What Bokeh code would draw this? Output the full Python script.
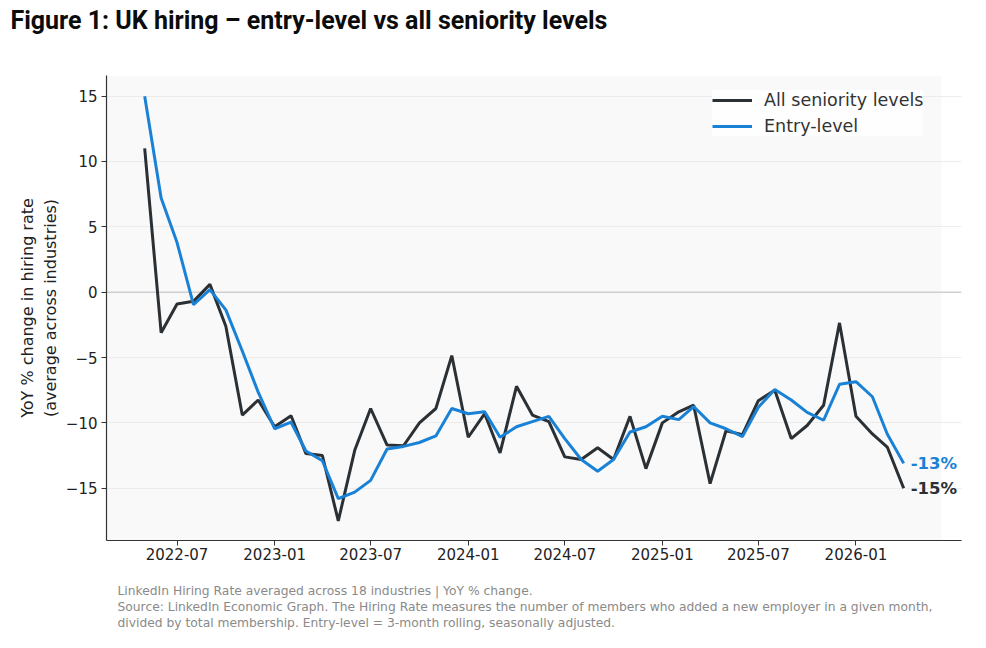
import pandas as pd
from bokeh.plotting import figure
from bokeh.models import (FixedTicker, DatetimeTickFormatter, Range1d, Label,
                          Legend, LegendItem, Span, Title, BoxAnnotation)
from bokeh.embed import file_html
from bokeh.resources import INLINE

# ---- data ----
months = pd.date_range("2022-05-01", "2026-04-01", freq="MS")

all_levels = [
    11.0, -3.1, -0.9, -0.7, 0.6, -2.6, -9.4, -8.25,
    -10.3, -9.45, -12.35, -12.5, -17.5, -12.1, -8.9, -11.7, -11.75, -10.0, -8.9, -4.85,
    -11.1, -9.3, -12.3, -7.2, -9.4, -9.9, -12.6, -12.8, -11.9, -12.8, -9.5, -13.5,
    -10.0, -9.15, -8.65, -14.65, -10.6, -10.9, -8.3, -7.5, -11.2, -10.2, -8.65, -2.35,
    -9.5, -10.85, -11.85, -15.0,
]
entry_level = [
    15.0, 7.2, 3.8, -0.95, 0.2, -1.35, -4.5, -7.65,
    -10.45, -9.95, -12.15, -12.9, -15.8, -15.3, -14.4, -12.0, -11.8, -11.5, -11.0, -8.9,
    -9.3, -9.15, -11.1, -10.3, -9.9, -9.5, -11.2, -12.8, -13.7, -12.8, -10.7, -10.3,
    -9.5, -9.75, -8.75, -10.0, -10.45, -11.05, -8.8, -7.45, -8.25, -9.2, -9.8, -7.05,
    -6.85, -8.0, -10.85, -13.1,
]
series_names = ["All seniority levels", "Entry-level"]
end_labels = ["-15%", "-13%"]
y_ticks = [-15, -10, -5, 0, 5, 10, 15]
x_tick_dates = ["2022-07-01", "2023-01-01", "2023-07-01", "2024-01-01",
                "2024-07-01", "2025-01-01", "2025-07-01", "2026-01-01"]

title_text = "Figure 1: UK hiring \u2013 entry-level vs all seniority levels"
footnotes = [
    "LinkedIn Hiring Rate averaged across 18 industries | YoY % change.",
    "Source: LinkedIn Economic Graph. The Hiring Rate measures the number of members who added a new employer in a given month,",
    "divided by total membership. Entry-level = 3-month rolling, seasonally adjusted.",
]

BLACK = "#2b3034"
BLUE = "#1a82d6"
FONT = "DejaVu Sans"


def ms(d):
    return pd.Timestamp(d).value / 1e6


p = figure(
    width=986, height=648,
    x_axis_type="datetime",
    output_backend="svg", toolbar_location=None,
    x_range=Range1d(ms("2022-02-18"), ms("2026-07-19")),
    y_range=Range1d(-19.0, 16.58),
    min_border_left=106, min_border_right=25,
    min_border_top=75, min_border_bottom=108,
)
p.background_fill_color = "white"
p.border_fill_color = "white"
p.outline_line_color = None

# light plot-area background (axes region of the reference)
bg = BoxAnnotation(right=ms("2026-06-11"), fill_color="#f9f9f9", fill_alpha=1.0,
                   line_color=None, level="image")
p.add_layout(bg)

# grid
p.xgrid.visible = False
p.ygrid.ticker = FixedTicker(ticks=y_ticks)
p.ygrid.grid_line_color = "#ececec"
p.ygrid.grid_line_width = 1
zero = Span(location=0, dimension="width", line_color="#cfcfcf", line_width=1.5,
            level="underlay")
p.add_layout(zero)

# axes
for ax in (p.xaxis[0], p.yaxis[0]):
    ax.axis_line_color = "#333333"
    ax.axis_line_width = 1.2
    ax.major_tick_line_color = "#333333"
    ax.major_tick_out = 5
    ax.major_tick_in = 0
    ax.minor_tick_line_color = None
    ax.major_label_text_font = FONT
    ax.major_label_text_font_size = "15px"
    ax.major_label_text_color = "#222222"

p.yaxis.ticker = FixedTicker(ticks=y_ticks)
p.yaxis.major_label_overrides = {t: (str(t).replace("-", "\u2212")) for t in y_ticks}
p.yaxis.major_label_standoff = 4
p.yaxis.axis_label = "YoY % change in hiring rate\n(average across industries)"
p.yaxis.axis_label_text_font = FONT
p.yaxis.axis_label_text_font_size = "16px"
p.yaxis.axis_label_text_font_style = "normal"
p.yaxis.axis_label_text_color = "#222222"
p.yaxis.axis_label_standoff = 3

p.xaxis.ticker = FixedTicker(ticks=[ms(d) for d in x_tick_dates])
p.xaxis.formatter = DatetimeTickFormatter(
    years="%Y-%m", months="%Y-%m", days="%Y-%m", hours="%Y-%m",
)
p.xaxis.major_label_standoff = 2
# blank spacer between tick labels and the source notes
p.xaxis.axis_label = " "
p.xaxis.axis_label_text_font_size = "8px"
p.xaxis.axis_label_standoff = 7

# lines
r_all = p.line(months, all_levels, line_color=BLACK, line_width=3)
r_entry = p.line(months, entry_level, line_color=BLUE, line_width=3)

legend = Legend(
    items=[LegendItem(label=series_names[0], renderers=[r_all]),
           LegendItem(label=series_names[1], renderers=[r_entry])],
    location=(606, 404),
    label_text_font=FONT, label_text_font_size="17.5px", label_text_color="#333333",
    background_fill_color="white", background_fill_alpha=0.85,
    border_line_color=None, glyph_width=40, label_standoff=12,
    spacing=6, padding=10, margin=0,
)
p.add_layout(legend)

# end labels
last_x = ms(months[-1])
for val, txt, col in [(all_levels[-1], end_labels[0], BLACK),
                      (entry_level[-1], end_labels[1], BLUE)]:
    p.add_layout(Label(x=last_x, y=val, text=txt, x_offset=7,
                       text_baseline="middle", text_font=FONT,
                       text_font_style="bold", text_font_size="16.5px",
                       text_color=col))

# title (spacer between title and frame, then the title itself)
p.title.text = ""
p.title.standoff = 0
p.add_layout(Title(text=" ", text_font_size="12px", standoff=25), "above")
p.add_layout(Title(text=title_text, align="left", offset=-96, standoff=0,
                   text_font="Roboto", text_font_style="bold",
                   text_font_size="25px", text_color="#0b0c0c"), "above")

# footnotes
for t in footnotes:
    p.add_layout(Title(text=t, align="left", offset=11, standoff=0,
                       text_font=FONT, text_font_size="12.3px",
                       text_font_style="normal", text_color="#8a8a8a"), "below")

open("out.html", "w").write(file_html(p, INLINE))
